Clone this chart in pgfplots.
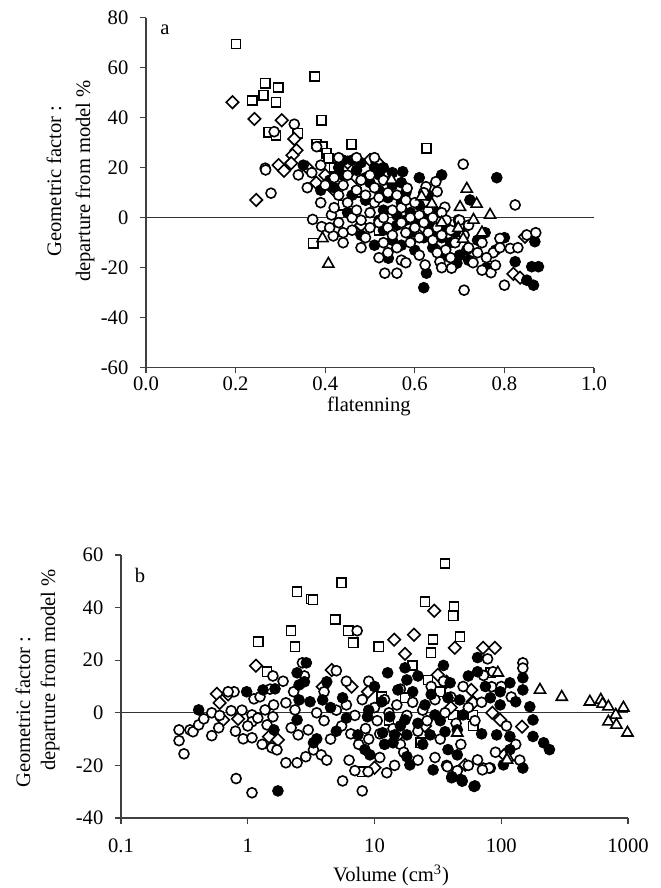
\documentclass[border=0pt]{standalone}
\usepackage{fontspec}
\setmainfont{Liberation Serif}
\usepackage{pgfplots}
\pgfplotsset{compat=1.18}

\pgfplotsset{
  scat/.style={scale only axis, axis x line*=bottom, axis y line*=left,
    axis line style={black!75, line width=0.6pt},
    tick style={black!75, line width=0.6pt}, tick align=outside,
    major tick length=2.8pt, clip=false,
    font=\fontsize{10.3}{12}\selectfont,
    yticklabel style={xshift=-2.5pt},
    /pgf/number format/assume math mode=true},
  sq/.style={only marks, mark=square*, mark size=2.3pt,
    mark options={draw=black, fill=white, line width=0.8pt}},
  dm/.style={only marks, mark=square*, mark size=2.2pt,
    mark options={rotate=45, draw=black, fill=white, line width=0.8pt}},
  oc/.style={only marks, mark=*, mark size=2.5pt,
    mark options={draw=black, fill=white, line width=0.8pt}},
  fc/.style={only marks, mark=*, mark size=2.7pt,
    mark options={draw=black, fill=black}},
  tr/.style={only marks, mark=triangle*, mark size=3.2pt,
    mark options={draw=black, fill=white, line width=0.8pt}},
}

\begin{document}
\begin{tikzpicture}
\path[use as bounding box] (0,0) rectangle (330pt,444pt);

% panel a
\begin{axis}[scat, at={(73pt,260.15pt)}, anchor=south west,
  width=224pt, height=175pt,
  xmin=0, xmax=1, ymin=-60, ymax=80,
  xtick={0,0.2,...,1.0}, ytick={-60,-40,...,80},
  xticklabel style={yshift=2pt, /pgf/number format/.cd, fixed, fixed zerofill, precision=1}]
\addplot[black!80, line width=0.6pt] coordinates {(0,0) (1,0)};
\addplot[sq] coordinates {
(0.201,69.5) (0.266,53.8) (0.295,52) (0.262,49) (0.237,46.8) (0.29,46.2)
(0.377,56.4) (0.392,39) (0.273,34.2) (0.29,33) (0.339,33.8) (0.381,29.5)
(0.394,28.4) (0.403,25.8) (0.407,23.8) (0.459,29.4) (0.626,27.8) (0.373,-10.2)
(0.42,20) (0.47,10) (0.52,-5) (0.70,-3) (0.44,5)};
\addplot[dm] coordinates {
(0.193,46.2) (0.242,39.5) (0.303,39) (0.331,31.5) (0.336,27) (0.327,25)
(0.324,21.8) (0.296,21) (0.246,7.1) (0.308,18.8) (0.5,23.1) (0.517,22)
(0.846,-7.6) (0.82,-22.5) (0.45,22) (0.47,16) (0.38,14) (0.42,11) (0.36,20)
(0.40,17) (0.48,-3) (0.62,-4) (0.66,-10) (0.835,-24)};
\addplot[fc] coordinates {
(0.351,21) (0.573,18.4) (0.66,17.1) (0.783,16) (0.521,17.1) (0.723,7.1)
(0.697,-0.9) (0.757,-6) (0.868,-9.6) (0.824,-17.6) (0.861,-19.6) (0.876,-19.6)
(0.626,-22.2) (0.541,-16.2) (0.716,-12.9) (0.694,-18.2) (0.62,-28) (0.85,-25)
(0.865,-27) (0.42,12) (0.44,17) (0.46,23) (0.48,22) (0.47,19) (0.50,14)
(0.49,7) (0.51,20) (0.52,11) (0.53,3) (0.53,-5) (0.54,8) (0.55,13) (0.55,-9)
(0.56,1) (0.56,-3) (0.57,6) (0.57,-11) (0.58,-1) (0.58,10) (0.59,-6) (0.59,2)
(0.60,-13) (0.60,-2) (0.61,5) (0.62,-8) (0.62,0) (0.63,-3) (0.63,9) (0.64,-12)
(0.64,-6) (0.65,2) (0.66,-8) (0.67,-4) (0.67,-15) (0.68,-10) (0.69,-6)
(0.70,-15) (0.72,-17) (0.74,-9) (0.76,-20) (0.78,-13) (0.80,-8) (0.45,2)
(0.48,-7) (0.51,-11) (0.43,20) (0.52,-1) (0.46,9) (0.44,23) (0.49,16)
(0.53,20) (0.55,18) (0.41,15) (0.39,11) (0.57,14) (0.61,16)};
\addplot[oc] coordinates {
(0.331,37.4) (0.286,34.4) (0.381,28.4) (0.266,19.8) (0.279,9.8) (0.267,19.1)
(0.34,17.1) (0.372,-0.7) (0.392,-3.6) (0.418,-7.3) (0.414,1.1) (0.708,21.4)
(0.824,5.1) (0.85,-6.9) (0.79,-8.3) (0.813,-12.3) (0.775,-14) (0.667,4.2)
(0.65,10.4) (0.647,14.4) (0.625,12.4) (0.583,11.8) (0.56,-22.2) (0.533,-22.2)
(0.623,-18.9) (0.656,-17.6) (0.682,-20.2) (0.669,-12.9) (0.71,-29) (0.80,-27)
(0.36,12) (0.37,18) (0.39,6) (0.40,13) (0.41,-4) (0.42,4) (0.42,16) (0.43,9)
(0.43,-2) (0.44,13) (0.44,-6) (0.45,6) (0.45,17) (0.46,0) (0.46,-5) (0.47,11)
(0.47,3) (0.48,15) (0.48,-1) (0.49,9) (0.49,-8) (0.50,2) (0.50,17) (0.50,-4)
(0.51,6) (0.51,12) (0.52,-2) (0.52,8) (0.53,15) (0.53,0) (0.54,-4) (0.54,10)
(0.54,-14) (0.55,3) (0.55,-7) (0.56,9) (0.56,-12) (0.57,-2) (0.57,4) (0.57,-17)
(0.58,-6) (0.58,7) (0.59,0) (0.59,-10) (0.60,-4) (0.60,6) (0.61,-8) (0.61,1)
(0.61,-15) (0.62,-2) (0.62,10) (0.63,-6) (0.63,3) (0.64,-9) (0.64,0) (0.65,-4)
(0.65,-14) (0.66,2) (0.66,-7) (0.67,-1) (0.68,-5) (0.68,-16) (0.69,-10)
(0.70,-1) (0.71,-7) (0.72,-12) (0.72,-3) (0.73,-18) (0.74,-14) (0.75,-10)
(0.76,-16) (0.77,-22) (0.78,-19) (0.79,-12) (0.52,-16) (0.48,-12) (0.58,-18)
(0.44,-10) (0.53,-10) (0.66,-20) (0.75,-21) (0.83,-12) (0.87,-6) (0.39,21)
(0.43,24) (0.47,24) (0.51,24)};
\addplot[tr] coordinates {
(0.394,-8.3) (0.407,-18.5) (0.548,15.1) (0.716,11.5) (0.615,8.4) (0.638,5.5)
(0.701,4.2) (0.738,5.5) (0.768,1.1) (0.731,-0.9) (0.697,-4.2) (0.708,-8.5)
(0.66,-2) (0.75,-6)};
\end{axis}

% panel b
\begin{axis}[scat, at={(60.5pt,35pt)}, anchor=south west,
  width=253.5pt, height=131.5pt, xmode=log,
  xmin=0.1, xmax=1000, ymin=-40, ymax=60,
  xtick={0.1,1,10,100,1000}, xticklabels={0.1,1,10,100,1000},
  xminorticks=false, ytick={-40,-20,...,60},
  xticklabel style={yshift=-4pt}]
\addplot[black!80, line width=0.6pt] coordinates {(0.1,0) (1000,0)};
\addplot[sq] coordinates {
(2.45,46) (3.16,43.3) (2.19,31.2) (2.36,25.1) (1.21,27) (36,56.7) (5.5,49.4)
(3.27,43) (25,42.2) (42.4,40.3) (41.7,36.9) (4.9,35.4) (6.2,31.2) (6.8,26.6)
(10.8,25.1) (28.9,27.8) (47.3,28.9) (27.9,22.8) (1.42,15.6) (8,-22.4)
(23.2,-11.4) (41.7,-0.8) (59.6,-0.8) (11.4,6.1) (17.4,5.7) (26.4,12.5)
(82,15.2) (33,8) (20,18) (60,-5) (13,-3)};
\addplot[dm] coordinates {
(29.6,38.8) (14.3,27.8) (20.5,29.7) (17.4,22.4) (43,24.7) (71.8,24.7) (89,24.7)
(0.57,7.2) (0.60,3.8) (0.64,-2.7) (0.84,-2.3) (1.16,17.9) (1.47,-9.1)
(1.73,-10.3) (4.6,16.3) (3.9,9.9) (6.6,9.9) (8.9,8) (31.6,14.4) (37,11.8)
(58,8.7) (59.5,4.2) (98,-2.7) (146,-5.3) (15,-9) (10,-20.9) (52,-19.8)
(106,-16) (85,0) (60,3.8) (0.7,7) (25,-5) (40,2)};
\addplot[oc] coordinates {
(0.287,-6.5) (0.287,-10.6) (0.314,-15.6) (0.35,-6.5) (0.37,-7.2) (0.41,-4.6)
(0.45,-2.3) (0.52,0) (0.52,-8.7) (0.59,-5.7) (0.74,0.8) (0.78,8) (0.92,-9.9)
(1.08,-9.5) (0.81,-25) (1.08,-30.4) (1.58,14) (1.12,5.3) (1.25,6.1) (1.08,-0.8)
(1.08,-3.4) (1.42,-4.6) (1.37,1.1) (1.58,-1.5) (1.55,-13.3) (1.70,-14.1)
(2.0,-19) (2.45,-19) (2.87,-16.7) (3.3,-14.1) (2.7,19) (2.0,3.8) (2.36,1.1)
(2.2,-5.7) (2.5,-8.4) (3.0,-6.5) (7.3,31.2) (12.5,-22.8) (14.4,-20)
(8.9,-22.4) (5.6,-25.9) (8,-29.7) (30,-17) (37,-20) (65,-17.9) (72,-21)
(82,-21) (148,19) (148,17) (86,15.6) (84,9.9) (80,-21) (71,-21.7) (37.6,-20.5)
(0.7,8) (0.9,1) (1.0,-5) (1.2,-2) (1.5,9) (1.9,12) (2.3,8) (3.5,0) (4,-3)
(4.5,-10) (5,1) (5.5,-5) (6,3) (6.5,-8) (7,-1) (7.5,-12) (8,5) (8.5,-6)
(9,-10) (10,2) (10.5,-3) (11,-8) (12,5) (13,0) (14,-6) (15,3) (16,-12)
(18,-1) (20,4) (22,-7) (24,1) (26,-3) (28,10) (30,5) (33,-10) (36,0) (40,6)
(44,-4) (48,-12) (55,2) (62,-3) (70,4) (78,20.5) (72.5,14.2) (100,10)
(120,6) (130,-12) (110,-5) (5,16) (6,12) (3.8,-16) (4.2,-18) (6.3,-18)
(7,-22) (11,-17) (17,-15) (22,-18) (45,-22) (55,-20) (90,-15) (140,-18)
(0.6,-1) (0.8,-7) (1.3,-12) (1.6,3) (2.8,14) (4,8) (9,12) (16,9) (35,12)
(50,10)};
\addplot[fc] coordinates {
(0.41,1.1) (0.98,8) (1.73,-29.7) (1.32,8.7) (1.64,9.1) (1.61,-6.5) (2.45,15.2)
(2.9,19) (2.54,10.6) (2.8,11.8) (2.45,-2.7) (2.54,4.9) (3.1,4.2) (3.3,-11.4)
(12.7,15.2) (17.4,17.1) (18,12.5) (22,14) (15.3,8.7) (11.4,4.2) (8.8,-1.5)
(13.2,-1.5) (17.4,-2.7) (30,-0.8) (39.5,11.4) (38,5.7) (47,4.9) (50,-0.8)
(45,-6.5) (36,-7.2) (27.5,-8.4) (18,-8.4) (14.4,-8.4) (11.6,-7.6) (7.4,-8.4)
(8.4,-14) (9.2,-16) (14,-11.4) (18,-16.7) (19,-19.8) (29,-21.7) (40.8,-24.3)
(48.7,-25.5) (61,-28) (38,-14) (45,-16) (65,21) (65,15.6) (82,5.7) (98,8)
(98,3) (117,11.4) (148,13.3) (148,8.7) (168,2.3) (178,-2.7) (92,-8.4)
(117,-9) (117,-14) (104,-19.8) (148,-21) (3.9,4.9) (4.2,11.8) (5.6,5.7)
(3.5,-9.9) (216,-11.4) (240,-14) (178,-9) (130,4.2) (62,-27.8) (49.2,-26)
(40.6,-24.7) (25,3) (22,-4) (33,-3) (20,8) (10,10) (6,-2) (5,-7) (9,1)
(24,-12) (70,-8) (75,10) (55,14) (35,18) (12,-12) (16,-5) (28,7) (4.5,2)};
\addplot[tr] coordinates {
(94,15.2) (45,-7.6) (113,-17) (202,8.7) (300,6) (500,4.2) (610,4.9) (630,3.4)
(700,2.3) (920,1.9) (800,-0.8) (700,-3.4) (810,-4.6) (990,-7.6) (111,-17.9)};
\end{axis}

\begin{scope}[every node/.style={font=\fontsize{10.3}{12}\selectfont}]
\node at (82.5pt,429pt) {a};
\node at (70pt,156.5pt) {b};
\node[rotate=90] at (27pt,353.5pt) {Geometric factor :};
\node[rotate=90] at (42.5pt,353.5pt) {departure from model \%};
\node[rotate=90] at (11.5pt,88pt) {Geometric factor :};
\node[rotate=90] at (25pt,109pt) {departure from model \%};
\node at (184.5pt,241pt) {flatenning};
\node[anchor=base] at (195.5pt,3pt) {Volume (cm\textsuperscript{3})};
\end{scope}
\end{tikzpicture}
\end{document}
